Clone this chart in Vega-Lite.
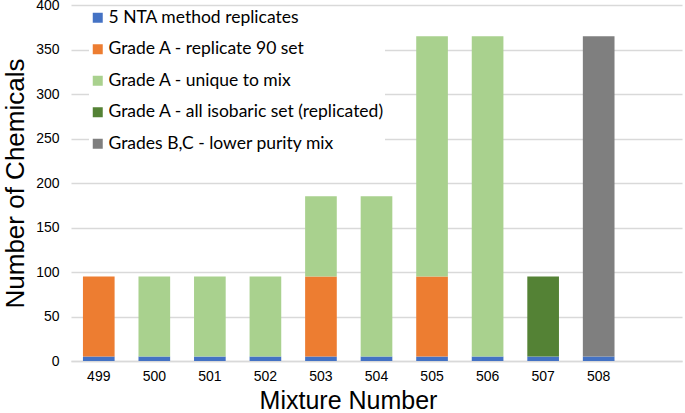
{
  "$schema": "https://vega.github.io/schema/vega-lite/v6.json",
  "width": 611,
  "height": 356,
  "autosize": {"type": "none"},
  "padding": {"left": 71, "top": 5, "right": 3, "bottom": 52},
  "background": "white",
  "config": {"view": {"stroke": null}, "font": "Liberation Sans"},
  "data": {
    "values": [
      {"mixture": "499", "series": "5 NTA method replicates", "ord": 1, "count": 5},
      {"mixture": "499", "series": "Grade A - replicate 90 set", "ord": 2, "count": 90},
      {"mixture": "500", "series": "5 NTA method replicates", "ord": 1, "count": 5},
      {"mixture": "500", "series": "Grade A - unique to mix", "ord": 3, "count": 90},
      {"mixture": "501", "series": "5 NTA method replicates", "ord": 1, "count": 5},
      {"mixture": "501", "series": "Grade A - unique to mix", "ord": 3, "count": 90},
      {"mixture": "502", "series": "5 NTA method replicates", "ord": 1, "count": 5},
      {"mixture": "502", "series": "Grade A - unique to mix", "ord": 3, "count": 90},
      {"mixture": "503", "series": "5 NTA method replicates", "ord": 1, "count": 5},
      {"mixture": "503", "series": "Grade A - replicate 90 set", "ord": 2, "count": 90},
      {"mixture": "503", "series": "Grade A - unique to mix", "ord": 3, "count": 90},
      {"mixture": "504", "series": "5 NTA method replicates", "ord": 1, "count": 5},
      {"mixture": "504", "series": "Grade A - unique to mix", "ord": 3, "count": 180},
      {"mixture": "505", "series": "5 NTA method replicates", "ord": 1, "count": 5},
      {"mixture": "505", "series": "Grade A - replicate 90 set", "ord": 2, "count": 90},
      {"mixture": "505", "series": "Grade A - unique to mix", "ord": 3, "count": 270},
      {"mixture": "506", "series": "5 NTA method replicates", "ord": 1, "count": 5},
      {"mixture": "506", "series": "Grade A - unique to mix", "ord": 3, "count": 360},
      {"mixture": "507", "series": "5 NTA method replicates", "ord": 1, "count": 5},
      {"mixture": "507", "series": "Grade A - all isobaric set (replicated)", "ord": 4, "count": 90},
      {"mixture": "508", "series": "5 NTA method replicates", "ord": 1, "count": 5},
      {"mixture": "508", "series": "Grades B,C - lower purity mix", "ord": 5, "count": 360}
    ]
  },
  "mark": {"type": "bar"},
  "encoding": {
    "x": {
      "field": "mixture",
      "type": "ordinal",
      "scale": {"domain": ["499","500","501","502","503","504","505","506","507","508","509"], "paddingInner": 0.43, "paddingOuter": 0.215},
      "axis": {
        "title": "Mixture Number",
        "titleFontSize": 25,
        "titleFontWeight": "normal",
        "titleColor": "#000",
        "titlePadding": 5,
        "titleX": 277,
        "titleAlign": "center",
        "labelAngle": 0,
        "labelFontSize": 14,
        "labelColor": "#000",
        "labelPadding": 8,
        "labelExpr": "datum.value == '509' ? '' : datum.value",
        "ticks": false,
        "domainColor": "#d9d9d9",
        "domainWidth": 1.5
      }
    },
    "y": {
      "field": "count",
      "type": "quantitative",
      "stack": "zero",
      "scale": {"domain": [0, 400]},
      "axis": {
        "title": "Number of Chemicals",
        "titleFontSize": 26,
        "titleFontWeight": "normal",
        "titleColor": "#000",
        "titlePadding": 7,
        "values": [0,50,100,150,200,250,300,350,400],
        "labelFontSize": 14,
        "labelColor": "#000",
        "labelPadding": 12,
        "ticks": false,
        "domain": false,
        "gridColor": "#d9d9d9",
        "gridWidth": 1.5
      }
    },
    "color": {
      "field": "series",
      "type": "nominal",
      "scale": {
        "domain": ["5 NTA method replicates", "Grade A - replicate 90 set", "Grade A - unique to mix", "Grade A - all isobaric set (replicated)", "Grades B,C - lower purity mix"],
        "range": ["#4472C4", "#ED7D31", "#A9D18E", "#548235", "#7F7F7F"]
      },
      "legend": {
        "title": null,
        "orient": "none",
        "legendX": 18,
        "legendY": 4,
        "symbolType": "square",
        "symbolSize": 100,
        "symbolStrokeWidth": 0,
        "labelFont": "Lato",
        "labelFontSize": 17.5,
        "labelLimit": 400,
        "labelColor": "#000",
        "rowPadding": 12.5,
        "labelOffset": 2,
        "fillColor": "white"
      }
    },
    "order": {"field": "ord", "type": "quantitative"}
  }
}
